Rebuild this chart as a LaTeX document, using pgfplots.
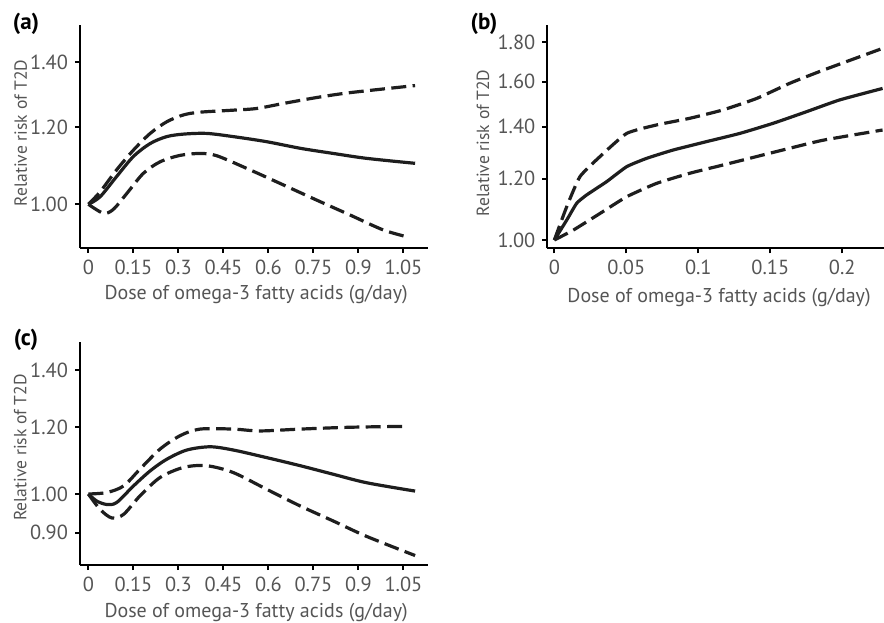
\documentclass[border=0pt]{standalone}
\usepackage{pgfplots}
\usepackage{pgfplotstable}
\pgfplotsset{compat=1.18}
\usepackage{fontspec}
\setmainfont{PT Sans}
\definecolor{txt}{HTML}{555555}
\definecolor{crv}{HTML}{1E1E1E}
\pgfplotsset{
  panel/.style={
    scale only axis,
    anchor=south west,
    axis x line=bottom, axis y line=left,
    axis line style={-, black, line width=1.3pt},
    tick align=outside, major tick length=2.5pt,
    every tick/.style={black, line width=1pt},
    ticklabel style={font=\fontsize{10.2}{11}\selectfont, text=txt},
    xlabel style={font=\fontsize{10}{11}\selectfont, text=txt},
    ylabel style={font=\fontsize{8.8}{10}\selectfont, text=txt},
    ylabel={Relative risk of T2D},
    xlabel={Dose of omega-3 fatty acids (g/day)},
    /pgf/number format/assume math mode=true,
    clip=true,
  },
  sol/.style={crv, line width=1.6pt, smooth, tension=0.5},
  dsh/.style={crv, line width=1.6pt, dash pattern=on 7.5pt off 3.2pt, smooth, tension=0.5},
}
% relative risk; plotted on a log scale (ln of the value)
\pgfplotstableread[row sep=\\]{x y\\ 0 1.0\\ 0.039 1.018\\ 0.094 1.068\\ 0.15 1.12\\ 0.206 1.155\\ 0.261 1.174\\ 0.317 1.181\\ 0.394 1.183\\ 0.483 1.174\\ 0.594 1.16\\ 0.706 1.142\\ 0.817 1.128\\ 0.928 1.115\\ 1.089 1.102\\}\aSol
\pgfplotstableread[row sep=\\]{x y\\ 0 1.0\\ 0.039 1.030\\ 0.094 1.085\\ 0.15 1.137\\ 0.206 1.183\\ 0.261 1.216\\ 0.317 1.236\\ 0.372 1.244\\ 0.483 1.25\\ 0.561 1.255\\ 0.65 1.27\\ 0.761 1.288\\ 0.872 1.303\\ 1.089 1.325\\}\aUp
\pgfplotstableread[row sep=\\]{x y\\ 0 1.0\\ 0.05 0.979\\ 0.083 0.988\\ 0.128 1.026\\ 0.183 1.076\\ 0.239 1.106\\ 0.306 1.123\\ 0.372 1.128\\ 0.428 1.122\\ 0.539 1.085\\ 0.65 1.047\\ 0.761 1.010\\ 0.872 0.975\\ 0.983 0.941\\ 1.067 0.925\\}\aLo
\pgfplotstableread[row sep=\\]{x y\\ 0 1.0\\ 0.0086 1.061\\ 0.0155 1.115\\ 0.0224 1.143\\ 0.0363 1.189\\ 0.0502 1.243\\ 0.064 1.274\\ 0.0825 1.306\\ 0.1057 1.339\\ 0.1288 1.372\\ 0.152 1.414\\ 0.175 1.463\\ 0.198 1.515\\ 0.228 1.568\\}\bSol
\pgfplotstableread[row sep=\\]{x y\\ 0 1.0\\ 0.0086 1.104\\ 0.0178 1.207\\ 0.0317 1.281\\ 0.0502 1.372\\ 0.071 1.407\\ 0.094 1.435\\ 0.117 1.471\\ 0.1405 1.522\\ 0.1635 1.592\\ 0.187 1.656\\ 0.228 1.766\\}\bUp
\pgfplotstableread[row sep=\\]{x y\\ 0 1.0\\ 0.0132 1.030\\ 0.0317 1.082\\ 0.0502 1.137\\ 0.071 1.183\\ 0.094 1.219\\ 0.117 1.249\\ 0.1405 1.281\\ 0.1635 1.313\\ 0.187 1.345\\ 0.228 1.386\\}\bLo
\pgfplotstableread[row sep=\\]{x y\\ 0 1.0\\ 0.028 0.981\\ 0.061 0.972\\ 0.094 0.977\\ 0.15 1.022\\ 0.206 1.065\\ 0.261 1.099\\ 0.328 1.127\\ 0.406 1.137\\ 0.483 1.127\\ 0.594 1.104\\ 0.706 1.080\\ 0.817 1.055\\ 0.928 1.031\\ 1.089 1.008\\}\cSol
\pgfplotstableread[row sep=\\]{x y\\ 0 1.0\\ 0.061 1.004\\ 0.117 1.022\\ 0.172 1.07\\ 0.239 1.13\\ 0.306 1.172\\ 0.372 1.193\\ 0.483 1.193\\ 0.572 1.187\\ 0.706 1.193\\ 0.872 1.199\\ 1.067 1.202\\}\cUp
\pgfplotstableread[row sep=\\]{x y\\ 0 1.0\\ 0.039 0.959\\ 0.078 0.937\\ 0.117 0.946\\ 0.172 0.995\\ 0.239 1.046\\ 0.317 1.075\\ 0.394 1.080\\ 0.483 1.060\\ 0.594 1.013\\ 0.706 0.968\\ 0.817 0.929\\ 0.928 0.891\\ 1.089 0.846\\}\cLo
\begin{document}
\begin{tikzpicture}
% ---------------- (a)
\begin{axis}[panel,
  at={(40pt,187pt)}, width=174pt, height=111.5pt,
  xmin=-0.028, xmax=1.132, ymin=-0.1036, ymax=0.425,
  xtick={0,0.15,0.3,0.45,0.6,0.75,0.9,1.05},
  xticklabels={0,0.15,0.3,0.45,0.6,0.75,0.9,1.05},
  ytick={0,0.18232,0.33647}, yticklabels={1.00,1.20,1.40},
  ylabel style={at={(axis description cs:-0.170,0.516)}, anchor=center},
  xlabel style={at={(axis description cs:0.506,-0.211)}, anchor=center},
]
\addplot[sol] table[x=x, y expr={ln(\thisrow{y})}] {\aSol};
\addplot[dsh] table[x=x, y expr={ln(\thisrow{y})}] {\aUp};
\addplot[dsh] table[x=x, y expr={ln(\thisrow{y})}] {\aLo};
\end{axis}
% ---------------- (b)
\begin{axis}[panel,
  at={(273.65pt,186.85pt)}, width=168.35pt, height=111.65pt,
  axis line style={-, black, line width=0.9pt},
  xmin=-0.0049, xmax=0.229, ymin=-0.0246, ymax=0.638,
  xtick={0,0.05,0.1,0.15,0.2},
  xticklabels={0,0.05,0.1,0.15,0.2},
  ytick={0,0.18232,0.33647,0.47000,0.58779}, yticklabels={1.00,1.20,1.40,1.60,1.80},
  ylabel style={at={(axis description cs:-0.191,0.472)}, anchor=center},
  xlabel style={at={(axis description cs:0.51,-0.2226)}, anchor=center},
]
\addplot[sol, tension=0.3] table[x=x, y expr={ln(\thisrow{y})}] {\bSol};
\addplot[dsh, tension=0.3] table[x=x, y expr={ln(\thisrow{y})}] {\bUp};
\addplot[dsh, tension=0.3] table[x=x, y expr={ln(\thisrow{y})}] {\bLo};
\end{axis}
% ---------------- (c)
\begin{axis}[panel,
  at={(40pt,28.5pt)}, width=174pt, height=111.65pt,
  xmin=-0.028, xmax=1.132, ymin=-0.193, ymax=0.414,
  xtick={0,0.15,0.3,0.45,0.6,0.75,0.9,1.05},
  xticklabels={0,0.15,0.3,0.45,0.6,0.75,0.9,1.05},
  ytick={-0.10536,0,0.18232,0.33647}, yticklabels={0.90,1.00,1.20,1.40},
  ylabel style={at={(axis description cs:-0.172,0.526)}, anchor=center},
  xlabel style={at={(axis description cs:0.506,-0.215)}, anchor=center},
]
\addplot[sol] table[x=x, y expr={ln(\thisrow{y})}] {\cSol};
\addplot[dsh] table[x=x, y expr={ln(\thisrow{y})}] {\cUp};
\addplot[dsh] table[x=x, y expr={ln(\thisrow{y})}] {\cLo};
\end{axis}
\node[font=\bfseries\fontsize{11.5}{13}\selectfont] at (13pt,299pt) {(a)};
\node[font=\bfseries\fontsize{11.5}{13}\selectfont] at (242pt,299pt) {(b)};
\node[font=\bfseries\fontsize{11.5}{13}\selectfont] at (13pt,141pt) {(c)};
\pgfresetboundingbox
\path (0pt,0pt) rectangle (442pt,311pt);
\end{tikzpicture}
\end{document}
